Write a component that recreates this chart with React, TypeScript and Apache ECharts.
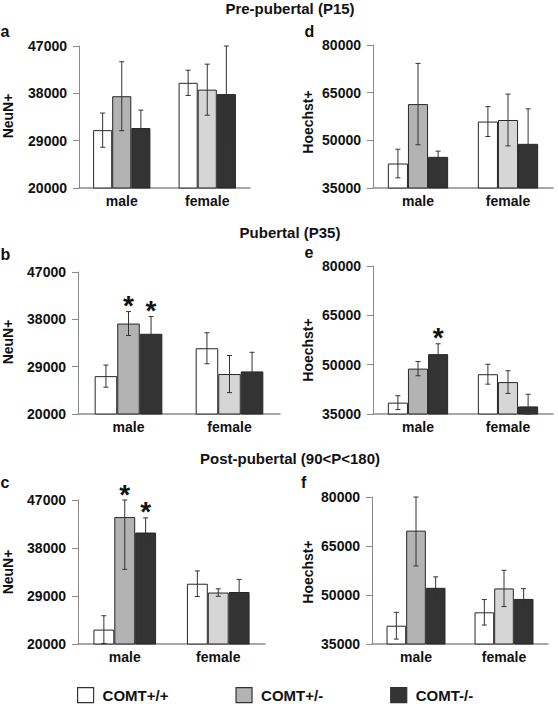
import React, { useEffect, useRef } from "react";
import * as echarts from "echarts";

// ---------- data ----------
const categories = ["male", "female"];
const genotypes = ["COMT+/+", "COMT+/-", "COMT-/-"];

// rows: genotype (COMT+/+, COMT+/-, COMT-/-), columns: [male, female]
const neunPreMean = [[31000, 40000], [37450, 38700], [31400, 37850]];
const neunPreErr = [[3250, 2400], [6550, 4850], [3400, 9250]];
const hoechstPreMean = [[42700, 55900], [61400, 56400], [44800, 48900]];
const hoechstPreErr = [[4500, 4700], [12800, 8150], [1800, 11000]];

const neunPubMean = [[27200, 32500], [37200, 27600], [35250, 28100]];
const neunPubErr = [[2100, 2950], [2270, 3530], [3280, 3630]];
const hoechstPubMean = [[38450, 47100], [48800, 44700], [53200, 37300]];
const hoechstPubErr = [[2100, 3030], [2170, 3440], [3150, 3700]];

const neunPostMean = [[22700, 31300], [43800, 29650], [40900, 29750]];
const neunPostErr = [[2600, 2400], [9800, 700], [2740, 2360]];
const hoechstPostMean = [[40600, 44700], [69700, 52000], [52200, 48800]];
const hoechstPostErr = [[4100, 3900], [10800, 5550], [3350, 3150]];

// significance stars: [genotype index, category index]
const neunPreStars: number[][] = [];
const hoechstPreStars: number[][] = [];
const neunPubStars = [[1, 0], [2, 0]];
const hoechstPubStars = [[2, 0]];
const neunPostStars = [[1, 0], [2, 0]];
const hoechstPostStars: number[][] = [];

const neunTicks = [20000, 29000, 38000, 47000];
const hoechstTicks = [35000, 50000, 65000, 80000];

const rowTitles = ["Pre-pubertal (P15)", "Pubertal (P35)", "Post-pubertal (90<P<180)"];

// ---------- styles / layout ----------
const FONT = "'Liberation Sans', Arial, Helvetica, sans-serif";
const colorWT = "#ffffff";
const colorHetMale = "#b3b3b3";
const colorHetFemale = "#d6d6d6";
const colorKO = "#333333";
const axisGray = "#8a8a8a";
const CAT_GAP = 0.33;

const panels = [
  { letter: "a", name: "NeuN+", mean: neunPreMean, err: neunPreErr, stars: neunPreStars, ticks: neunTicks,
    grid: { left: 79, top: 46, width: 171, height: 142 }, letterPos: [0.5, 31.5], namePos: [8, 116] },
  { letter: "d", name: "Hoechst+", mean: hoechstPreMean, err: hoechstPreErr, stars: hoechstPreStars, ticks: hoechstTicks,
    grid: { left: 373, top: 45, width: 180, height: 143 }, letterPos: [304.5, 31.5], namePos: [308, 122] },
  { letter: "b", name: "NeuN+", mean: neunPubMean, err: neunPubErr, stars: neunPubStars, ticks: neunTicks,
    grid: { left: 78, top: 272, width: 202, height: 142 }, letterPos: [0.5, 254.5], namePos: [8, 342] },
  { letter: "e", name: "Hoechst+", mean: hoechstPubMean, err: hoechstPubErr, stars: hoechstPubStars, ticks: hoechstTicks,
    grid: { left: 373, top: 266, width: 180, height: 148 }, letterPos: [304.5, 252.5], namePos: [308, 350] },
  { letter: "c", name: "NeuN+", mean: neunPostMean, err: neunPostErr, stars: neunPostStars, ticks: neunTicks,
    grid: { left: 78, top: 500, width: 187, height: 144 }, letterPos: [0.5, 482.5], namePos: [8, 572] },
  { letter: "f", name: "Hoechst+", mean: hoechstPostMean, err: hoechstPostErr, stars: hoechstPostStars, ticks: hoechstTicks,
    grid: { left: 372, top: 497, width: 176, height: 147 }, letterPos: [301, 482.5], namePos: [308, 572] },
];

const titleY = [8.5, 232, 458];

function buildOption() {
  const grid: any[] = [];
  const xAxis: any[] = [];
  const yAxis: any[] = [];
  const series: any[] = [];
  const graphic: any[] = [];

  panels.forEach((p, pi) => {
    const yMin = p.ticks[0];
    const yMax = p.ticks[p.ticks.length - 1];
    grid.push({ ...p.grid, containLabel: false });
    xAxis.push({
      type: "category",
      gridIndex: pi,
      data: categories,
      axisLine: { show: true, lineStyle: { color: axisGray, width: 1.5 } },
      axisTick: { show: false },
      axisLabel: { fontFamily: FONT, fontSize: 14, fontWeight: "bold", color: "#111", margin: 6 },
      splitLine: { show: false },
    });
    yAxis.push({
      type: "value",
      gridIndex: pi,
      min: yMin,
      max: yMax,
      axisLine: { show: true, lineStyle: { color: axisGray, width: 1 } },
      axisTick: { show: true, inside: false, length: 6, lineStyle: { color: axisGray }, customValues: p.ticks },
      axisLabel: {
        fontFamily: FONT, fontSize: 14, fontWeight: "bold", color: "#111", margin: 12,
        customValues: p.ticks,
        formatter: (v: number) => String(v),
      },
      splitLine: { show: false },
    });

    const colors = [colorWT, colorHetMale, colorKO];
    genotypes.forEach((g, gi) => {
      series.push({
        type: "bar",
        name: g,
        xAxisIndex: pi,
        yAxisIndex: pi,
        barGap: "0%",
        barCategoryGap: CAT_GAP * 100 + "%",
        itemStyle: { color: colors[gi], borderColor: "#262626", borderWidth: 1 },
        data: p.mean[gi].map((v, ci) =>
          gi === 1 && ci === 1 ? { value: v, itemStyle: { color: colorHetFemale } } : v
        ),
        z: 2,
      });
    });

    const errData: number[][] = [];
    genotypes.forEach((_, gi) => {
      categories.forEach((_c, ci) => {
        errData.push([ci, p.mean[gi][ci], p.err[gi][ci], gi]);
      });
    });
    series.push({
      type: "custom",
      name: "error",
      xAxisIndex: pi,
      yAxisIndex: pi,
      clip: false,
      z: 5,
      data: errData,
      encode: { x: 0, y: 1 },
      renderItem: (params: any, api: any) => {
        const ci = api.value(0);
        const mean = api.value(1);
        const err = api.value(2);
        const gi = api.value(3);
        const band = api.size([1, 0])[0];
        const bw = (band * (1 - CAT_GAP)) / 3;
        const cx = api.coord([ci, mean])[0] + (gi - 1) * bw;
        const yT = api.coord([ci, Math.min(mean + err, yMax)])[1];
        const yB = api.coord([ci, Math.max(mean - err, yMin)])[1];
        const st = { stroke: "#333333", lineWidth: 1 };
        return {
          type: "group",
          children: [
            { type: "line", shape: { x1: cx, y1: yT, x2: cx, y2: yB }, style: st },
            { type: "line", shape: { x1: cx - 2.5, y1: yT, x2: cx + 2.5, y2: yT }, style: st },
            { type: "line", shape: { x1: cx - 2.5, y1: yB, x2: cx + 2.5, y2: yB }, style: st },
          ],
        };
      },
    });

    if (p.stars.length) {
      series.push({
        type: "custom",
        name: "significance",
        xAxisIndex: pi,
        yAxisIndex: pi,
        clip: false,
        z: 6,
        data: p.stars.map(([gi, ci]) => [ci, p.mean[gi][ci], p.err[gi][ci], gi]),
        encode: { x: 0, y: 1 },
        renderItem: (params: any, api: any) => {
          const ci = api.value(0);
          const mean = api.value(1);
          const err = api.value(2);
          const gi = api.value(3);
          const band = api.size([1, 0])[0];
          const bw = (band * (1 - CAT_GAP)) / 3;
          const cx = api.coord([ci, mean])[0] + (gi - 1) * bw;
          const yT = api.coord([ci, Math.min(mean + err, yMax)])[1];
          return {
            type: "text",
            x: cx,
            y: yT - 6,
            style: {
              text: "*",
              fontFamily: FONT,
              fontSize: 28,
              fontWeight: "bold",
              fill: "#111",
              align: "center",
              verticalAlign: "middle",
            },
          };
        },
      });
    }

    graphic.push({
      type: "text",
      x: p.letterPos[0],
      y: p.letterPos[1],
      style: { text: p.letter, fontFamily: FONT, fontSize: 16, fontWeight: "bold", fill: "#111", align: "left", verticalAlign: "middle" },
    });
    graphic.push({
      type: "text",
      x: p.namePos[0],
      y: p.namePos[1],
      rotation: Math.PI / 2,
      style: { text: p.name, fontFamily: FONT, fontSize: 14, fontWeight: "bold", fill: "#111", align: "center", verticalAlign: "middle" },
    });
  });

  rowTitles.forEach((t, i) => {
    graphic.push({
      type: "text",
      x: 290,
      y: titleY[i],
      style: { text: t, fontFamily: FONT, fontSize: 15, fontWeight: "bold", fill: "#111", align: "center", verticalAlign: "middle" },
    });
  });

  return {
    animation: false,
    backgroundColor: "#ffffff",
    grid,
    xAxis,
    yAxis,
    series,
    graphic,
    legend: {
      data: genotypes,
      left: 77,
      top: 687,
      padding: 0,
      itemWidth: 16,
      itemHeight: 15,
      itemGap: 67,
      selectedMode: false,
      icon: "rect",
      itemStyle: { borderColor: "#333", borderWidth: 1.2 },
      textStyle: { fontFamily: FONT, fontSize: 15, fontWeight: "bold", color: "#111", padding: [0, 0, 0, 4] },
    },
  };
}

export default function App() {
  const ref = useRef<HTMLDivElement>(null);
  useEffect(() => {
    document.body.style.margin = "0";
    if (!ref.current) return;
    const chart = echarts.init(ref.current, null, { renderer: "svg" });
    chart.setOption(buildOption() as any);
    return () => chart.dispose();
  }, []);
  return <div ref={ref} style={{ width: 558, height: 704 }} />;
}
